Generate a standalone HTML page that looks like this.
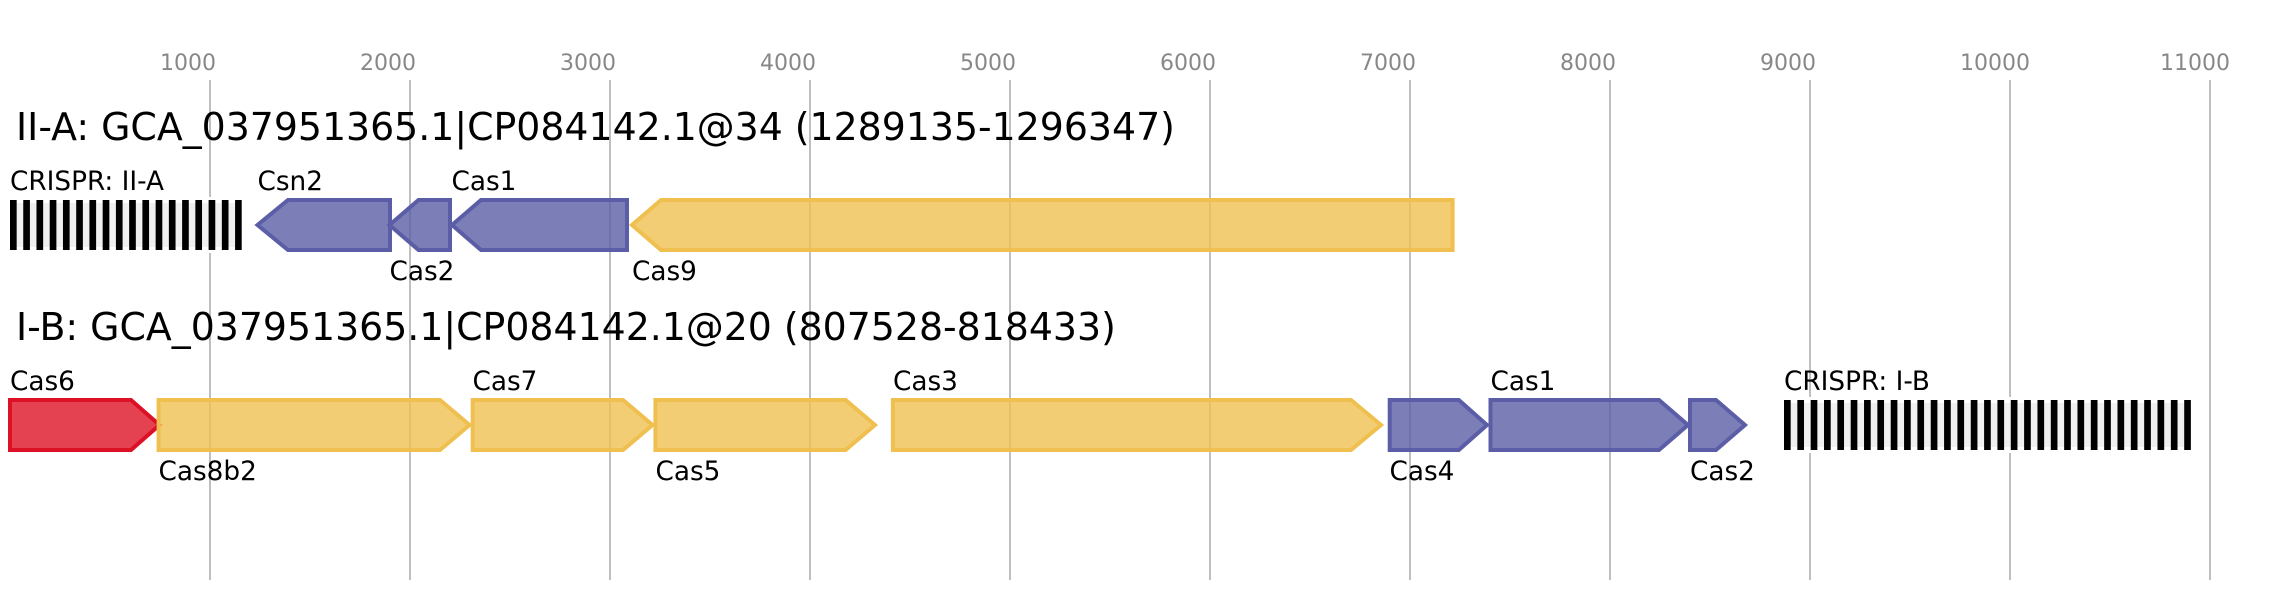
<!DOCTYPE html>
<html><head><meta charset="utf-8"><style>
html,body{margin:0;padding:0;background:#fff;width:2281px;height:600px;overflow:hidden}
svg{display:block}
text{font-family:"DejaVu Sans",sans-serif}
.t{font-size:22px;fill:#888}
.h{font-size:37.85px;fill:#000}
.l{font-size:26.3px;fill:#000}
.p{fill:#5B5EA6;fill-opacity:.8;stroke:#5B5EA6;stroke-width:4}
.y{fill:#EFC050;fill-opacity:.8;stroke:#EFC050;stroke-width:4}
.r{fill:#DD1125;fill-opacity:.8;stroke:#DD1125;stroke-width:4}
</style></head><body>
<svg width="2281" height="600" viewBox="0 0 2281 600" xmlns="http://www.w3.org/2000/svg">
<rect width="2281" height="600" fill="#fff"/>
<g stroke="#bfbfbf" stroke-width="2">
<line x1="210" y1="80" x2="210" y2="580"/><line x1="410" y1="80" x2="410" y2="580"/><line x1="610" y1="80" x2="610" y2="580"/><line x1="810" y1="80" x2="810" y2="580"/><line x1="1010" y1="80" x2="1010" y2="580"/><line x1="1210" y1="80" x2="1210" y2="580"/><line x1="1410" y1="80" x2="1410" y2="580"/><line x1="1610" y1="80" x2="1610" y2="580"/><line x1="1810" y1="80" x2="1810" y2="580"/><line x1="2010" y1="80" x2="2010" y2="580"/><line x1="2210" y1="80" x2="2210" y2="580"/>
</g>
<g class="t">
<text class="t" x="160" y="70">1000</text><text class="t" x="360" y="70">2000</text><text class="t" x="560" y="70">3000</text><text class="t" x="760" y="70">4000</text><text class="t" x="960" y="70">5000</text><text class="t" x="1160" y="70">6000</text><text class="t" x="1360" y="70">7000</text><text class="t" x="1560" y="70">8000</text><text class="t" x="1760" y="70">9000</text><text class="t" x="1960" y="70">10000</text><text class="t" x="2160" y="70">11000</text>
</g>
<text class="h" x="16" y="140">II-A: GCA_037951365.1|CP084142.1@34 (1289135-1296347)</text>
<text class="h" x="16" y="340">I-B: GCA_037951365.1|CP084142.1@20 (807528-818433)</text>

<rect x="10" y="200" width="231.7" height="50" fill="#f0f0f0" stroke="#fff" stroke-width="6"/>
<line x1="10" y1="225" x2="241.7" y2="225" stroke="#000" stroke-width="50" stroke-dasharray="6.67 6.57"/>
<text class="l" x="10" y="190">CRISPR: II-A</text>

<polygon class="p" points="390,200 288,200 257.5,225 288,250 390,250"/>
<text class="l" x="257.5" y="190">Csn2</text>
<polygon class="p" points="450,200 418.5,200 389.5,225 418.5,250 450,250"/>
<text class="l" x="389.5" y="280">Cas2</text>
<polygon class="p" points="627,200 481,200 452,225 481,250 627,250"/>
<text class="l" x="451.5" y="190">Cas1</text>
<polygon class="y" points="1452.6,200 661,200 632,225 661,250 1452.6,250"/>
<text class="l" x="632" y="280">Cas9</text>

<polygon class="r" points="10,400 131,400 159.5,425 131,450 10,450"/>
<text class="l" x="10" y="390">Cas6</text>
<polygon class="y" points="158.6,400 440,400 469.5,425 440,450 158.6,450"/>
<text class="l" x="158.5" y="480">Cas8b2</text>
<polygon class="y" points="472.7,400 623,400 652.5,425 623,450 472.7,450"/>
<text class="l" x="472.5" y="390">Cas7</text>
<polygon class="y" points="655.4,400 845.6,400 875,425 845.6,450 655.4,450"/>
<text class="l" x="655.5" y="480">Cas5</text>
<polygon class="y" points="892.9,400 1351,400 1381,425 1351,450 892.9,450"/>
<text class="l" x="893" y="390">Cas3</text>
<polygon class="p" points="1389.7,400 1458.8,400 1487,425 1458.8,450 1389.7,450"/>
<text class="l" x="1389.5" y="480">Cas4</text>
<polygon class="p" points="1490.5,400 1659,400 1688,425 1659,450 1490.5,450"/>
<text class="l" x="1490.5" y="390">Cas1</text>
<polygon class="p" points="1690,400 1716,400 1745,425 1716,450 1690,450"/>
<text class="l" x="1690" y="480">Cas2</text>

<rect x="1784" y="400" width="407" height="50" fill="#f0f0f0" stroke="#fff" stroke-width="6"/>
<line x1="1784" y1="425" x2="2191" y2="425" stroke="#000" stroke-width="50" stroke-dasharray="6.67 6.67"/>
<text class="l" x="1784" y="390">CRISPR: I-B</text>
</svg>
</body></html>
